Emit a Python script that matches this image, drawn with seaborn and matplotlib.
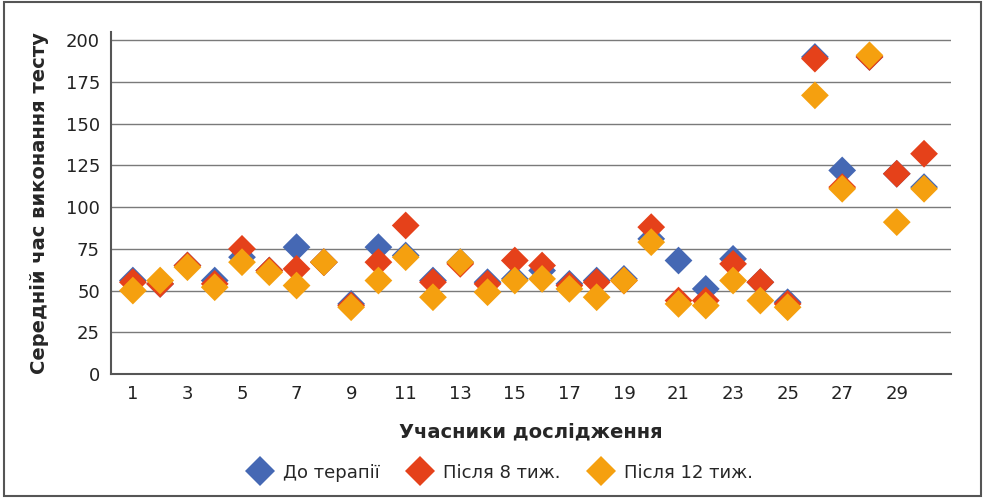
import seaborn as sns
import matplotlib.pyplot as plt
import pandas as pd

# participants 1..30
participants = list(range(1, 31))
before = [56, 54, 65, 56, 70, 62, 76, 67, 42, 76,
          71, 56, 67, 55, 57, 62, 54, 56, 57, 81,
          68, 51, 69, 55, 43, 190, 122, 190, 120, 112]
after8 = [55, 54, 65, 54, 75, 62, 63, 67, 41, 67,
          89, 55, 66, 54, 68, 65, 53, 55, 56, 88,
          44, 44, 66, 55, 42, 189, 112, 190, 120, 132]
after12 = [50, 56, 64, 52, 67, 61, 53, 67, 40, 56,
           70, 46, 67, 49, 56, 57, 51, 46, 56, 79,
           42, 41, 56, 44, 40, 167, 111, 191, 91, 111]
series = ['До терапії', 'Після 8 тиж.', 'Після 12 тиж.']
colors = ['#4568B4', '#E5411A', '#F5A00F']
yticks = [0, 25, 50, 75, 100, 125, 150, 175, 200]

df = pd.concat([
    pd.DataFrame({'participant': participants, 'time': v, 'group': name})
    for name, v in zip(series, [before, after8, after12])
], ignore_index=True)

sns.set_style('white')
plt.rcParams['font.family'] = ['DejaVu Sans']

fig = plt.figure(figsize=(9.88, 5.03), dpi=100)
ax = fig.add_axes([0.1124, 0.2565, 0.8502, 0.68])

sns.scatterplot(data=df, x='participant', y='time', hue='group',
                palette=colors, marker='D', s=200, linewidth=0,
                ax=ax, zorder=3)

ax.set_xlim(0.2, 30.99)
ax.set_ylim(0, 205)
ax.set_xticks(range(1, 30, 2))
ax.set_yticks(yticks)
ax.tick_params(axis='both', length=0, labelsize=13, colors='#222222', pad=8)
ax.grid(axis='y', color='#7a7a7a', linewidth=1)
ax.set_axisbelow(True)
for side in ['top', 'right']:
    ax.spines[side].set_visible(False)
for side in ['left', 'bottom']:
    ax.spines[side].set_color('#555555')
    ax.spines[side].set_linewidth(1.5)

ax.set_xlabel('Учасники дослідження', fontsize=14, fontweight='bold', labelpad=14)
ax.set_ylabel('Середній час виконання тесту', fontsize=14, fontweight='bold', labelpad=12)

handles, labels = ax.get_legend_handles_labels()
leg = ax.legend(handles, labels, loc='upper center', bbox_to_anchor=(0.46, -0.215),
                ncol=3, frameon=False, fontsize=13, markerscale=1.1,
                handletextpad=0.3, columnspacing=1.2)

# outer frame
fig.patches.append(plt.Rectangle((0.004, 0.014), 0.989, 0.982, transform=fig.transFigure,
                                 fill=False, edgecolor='#555555', linewidth=1.5))

fig.savefig('out.png', dpi=100)
